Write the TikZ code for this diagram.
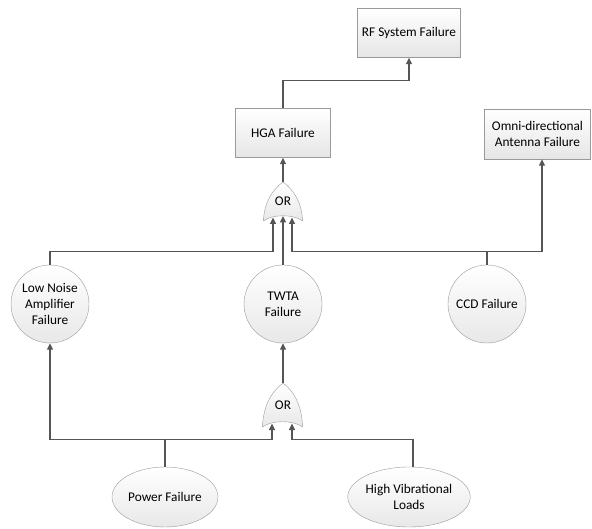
\documentclass[tikz,border=0pt]{standalone}
\usepackage{fontspec}
\setmainfont{Carlito}
\usetikzlibrary{arrows.meta,shadows,shapes.geometric}
\definecolor{wire}{HTML}{555555}
\definecolor{edge}{HTML}{9A9A9A}
\tikzset{
  txt/.style={font=\fontsize{13.3}{16}\selectfont},
  boxnode/.style={rectangle, draw=edge, top color=white, bottom color=black!10,
    general shadow={shadow xshift=-1pt, shadow yshift=-1pt, fill=black!55},
    align=center, inner sep=2pt, txt},
  circnode/.style={circle, draw=edge, top color=white, bottom color=black!9,
    minimum size=78pt, inner sep=0pt, align=center, txt},
  ellnode/.style={ellipse, draw=edge, top color=white, bottom color=black!9,
    inner sep=0pt, align=center, txt},
  gatetext/.style={inner sep=0pt, txt},
  gateshape/.style={draw=edge, top color=white, bottom color=black!9},
  wirearrow/.style={draw=wire, line width=1.2pt, -{Triangle[length=6.5pt,width=6pt]}}
}
\begin{document}
\begin{tikzpicture}[x=1pt,y=-1pt]
\useasboundingbox (0,0) rectangle (592,529);
% boxes
\node[boxnode, minimum width=103pt, minimum height=49pt] (rf) at (409,33) {RF System Failure};
\node[boxnode, minimum width=95pt, minimum height=49pt] (hga) at (283,133) {HGA Failure};
\node[boxnode, minimum width=106pt, minimum height=50pt] (omni) at (537.5,134) {Omni-directional\\Antenna Failure};
% circles
\node[circnode] (lna) at (50,304) {Low Noise\\Amplifier\\Failure};
\node[circnode] (twta) at (283,304) {TWTA\\Failure};
\node[circnode] (ccd) at (487,304) {CCD Failure};
% ellipses
\node[ellnode, minimum width=106pt, minimum height=60pt] (power) at (165,497) {Power Failure};
\node[ellnode, minimum width=102pt, minimum height=60pt] (hv) at (409,497) {High Vibrational\\Loads};
% gate 1
\path[gateshape] (263.5,221) .. controls (264,203) and (272,190) .. (283,182)
  .. controls (294,190) and (302,203) .. (302.5,221)
  .. controls (294,214) and (272,214) .. (263.5,221) -- cycle;
\node[gatetext, minimum width=39pt, minimum height=39pt] (g1) at (283,201.5) {OR};
\coordinate (g1a) at (273,217.5);
\coordinate (g1b) at (283,216);
\coordinate (g1c) at (292,217.5);
% gate 2
\path[gateshape] (262.5,427) .. controls (263,407) and (271,392) .. (283,383)
  .. controls (295,392) and (302,407) .. (302.5,427)
  .. controls (294,420) and (271,420) .. (262.5,427) -- cycle;
\node[gatetext, minimum width=40pt, minimum height=44pt] (g2) at (283,405) {OR};
\coordinate (g2a) at (272,423.5);
\coordinate (g2b) at (292,423.5);
% connectors
\draw[wirearrow] (hga.north) -- ++(0,-28) -| (rf.south);
\draw[wirearrow] (g1.north) -- (hga.south);
\draw[wirearrow] (lna.north) -- ++(0,-13) -| (g1a);
\draw[wirearrow] (twta.north) -- (g1b);
\draw[wirearrow] (ccd.north) -- ++(0,-13) -| (g1c);
\draw[wirearrow] (ccd.north) -- ++(0,-13) -| ([xshift=4.5pt]omni.south);
\draw[wirearrow] (g2.north) -- (twta.south);
\draw[wirearrow] (power.north) -- ++(0,-27) -| (lna.south);
\draw[wirearrow] (power.north) -- ++(0,-27) -| (g2a);
\draw[wirearrow] ([xshift=4pt]hv.north) -- ++(0,-27) -| (g2b);
\end{tikzpicture}
\end{document}
